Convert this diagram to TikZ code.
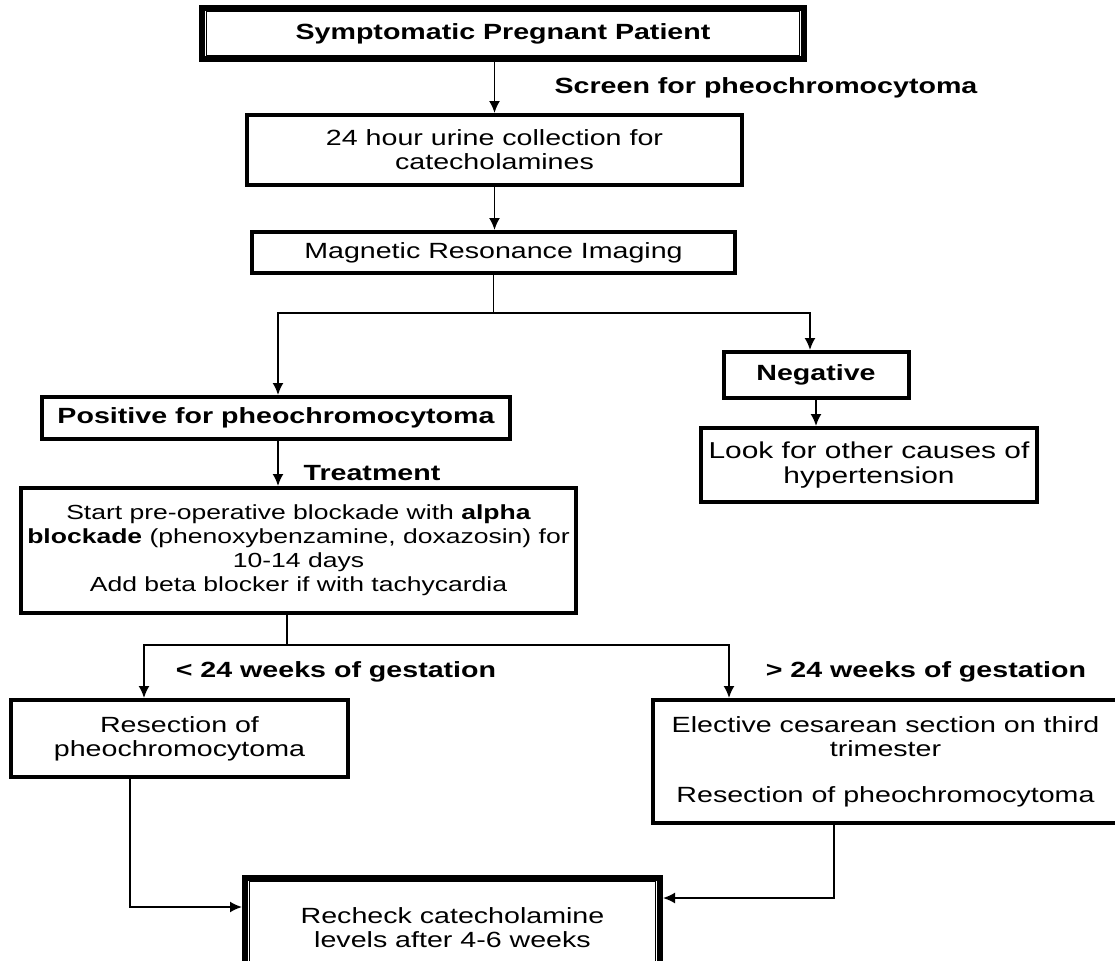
\documentclass[tikz,border=0pt]{standalone}
\usepackage{fontspec}
\setmainfont{Liberation Sans}[FakeStretch=1.3]
\usetikzlibrary{arrows.meta,calc}

\begin{document}
\begin{tikzpicture}[x=0.5pt,y=-0.5pt,
    box/.style={draw,fill=white,line width=2pt,align=center,inner sep=0pt,
      font=\fontsize{11}{12}\selectfont},
    dbox/.style={box,line width=3pt},
    lbl/.style={font=\fontsize{11}{12}\selectfont\bfseries},
    link/.style={line width=0.9pt,-{Latex[length=6pt,width=5.5pt]}},
    plain/.style={line width=0.9pt}]
  \useasboundingbox (0,0) rectangle (1115,960);
  % Boxes
  \node[dbox,minimum width=301pt,minimum height=25.5pt,font=\fontsize{11}{12}\selectfont\bfseries]
    (top) at (503,33.5) {Symptomatic Pregnant Patient};
  \node[box,minimum width=247.5pt,minimum height=35pt]
    (urine) at (494.5,150) {24 hour urine collection for\\catecholamines};
  \node[box,minimum width=241.5pt,minimum height=20.5pt]
    (mri) at (493.5,252.5) {Magnetic Resonance Imaging};
  \node[box,minimum width=234pt,minimum height=21pt,font=\fontsize{11}{12}\selectfont\bfseries]
    (pos) at (276,418) {Positive for pheochromocytoma};
  \node[box,minimum width=92.5pt,minimum height=23pt,font=\fontsize{11}{12}\selectfont\bfseries]
    (neg) at (816,375) {Negative};
  \node[box,minimum width=168pt,minimum height=37pt,font=\fontsize{11.5}{12.5}\selectfont]
    (look) at (869,465) {Look for other causes of\\hypertension};
  \node[box,minimum width=277.5pt,minimum height=62.5pt,font=\fontsize{10.2}{12}\selectfont]
    (treat) at (298.5,550.5) {Start pre-operative blockade with \textbf{alpha}\\
      \textbf{blockade} (phenoxybenzamine, doxazosin) for\\10-14 days\\
      Add beta blocker if with tachycardia};
  \node[box,minimum width=168.5pt,minimum height=38.5pt]
    (res1) at (179.5,738.5) {Resection of\\pheochromocytoma};
  \node[box,minimum width=232.5pt,minimum height=61.5pt]
    (res2) at (885.5,761.5) {Elective cesarean section on third\\trimester\\[11pt]
      Resection of pheochromocytoma};
  \node[dbox,minimum width=207.5pt,minimum height=50pt]
    (recheck) at (452.5,928) {Recheck catecholamine\\levels after 4-6 weeks};
  % Inner frames
  \draw[line width=0.8pt] ([shift={(3.7pt,-3.2pt)}]top.north west)
    rectangle ([shift={(-3.7pt,3.2pt)}]top.south east);
  \draw[line width=0.8pt] ([shift={(3.7pt,-3.2pt)}]recheck.north west)
    rectangle ([shift={(-3.7pt,3.2pt)}]recheck.south east);
  % Labels
  \node[lbl] (screen) at (766,88) {Screen for pheochromocytoma};
  \node[lbl] (treatlbl) at (372,473) {Treatment};
  \node[lbl] (early) at (336,672) {< 24 weeks of gestation};
  \node[lbl] (late) at (926,672) {> 24 weeks of gestation};
  % Split points
  \coordinate (split1) at (493.5,313);
  \coordinate (split2) at (287,645);
  % Arrows
  \draw[link] (urine.north |- top.south) -- (urine.north);
  \draw[link] (urine.south) -- (urine.south |- mri.north);
  \draw[plain] (mri.south) -- (split1);
  \draw[link] (split1) -| ([xshift=1pt]pos.north);
  \draw[link] (split1) -| ([xshift=-3pt]neg.north);
  \draw[link] (neg.south) -- (neg.south |- look.north);
  \draw[link] ([xshift=1pt]pos.south) -- ([xshift=1pt]pos.south |- treat.north);
  \draw[plain] (treat.south -| split2) -- (split2);
  \draw[link] (split2) -| ([xshift=-17.75pt]res1.north);
  \draw[link] (split2) -| ([xshift=-78.25pt]res2.north);
  \draw[link] ([xshift=-24.75pt]res1.south) |- ([yshift=10.5pt]recheck.west);
  \draw[link] ([xshift=-25.75pt]res2.south) |- ([yshift=15pt]recheck.east);
\end{tikzpicture}
\end{document}
